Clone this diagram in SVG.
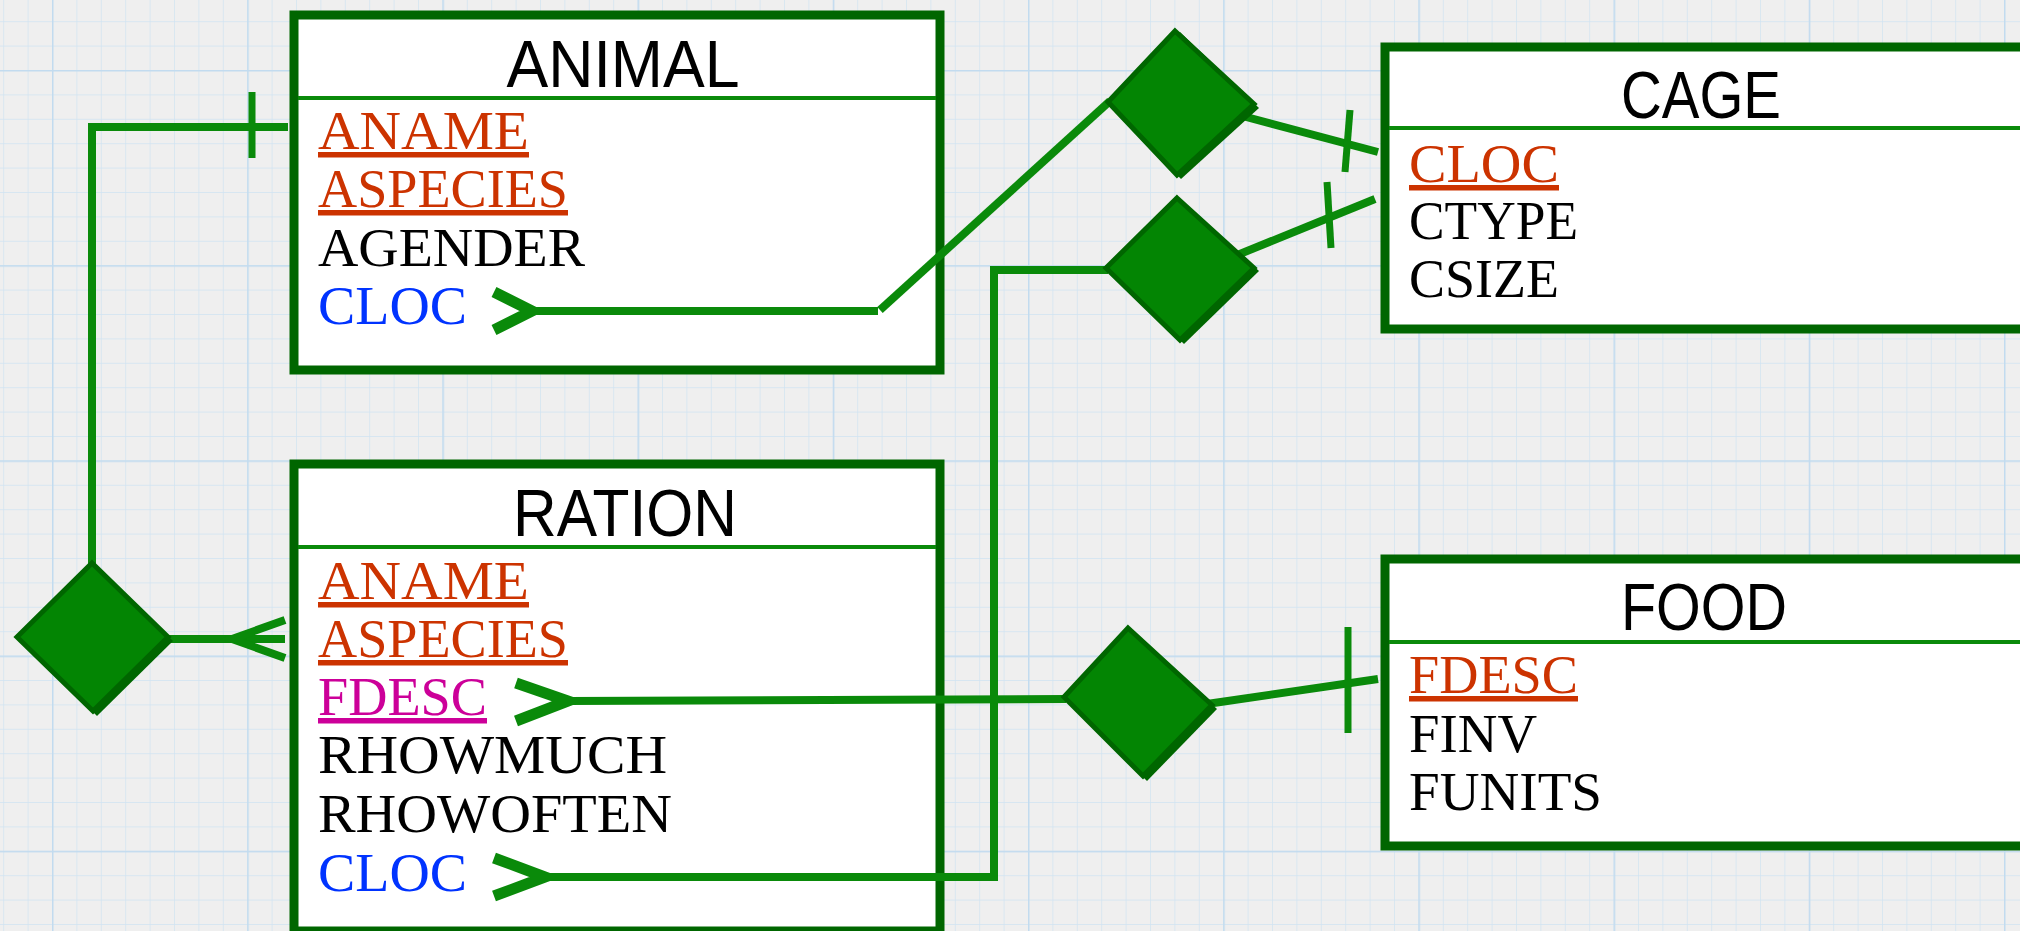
<svg xmlns="http://www.w3.org/2000/svg" width="2020" height="931" viewBox="0 0 2020 931">
  <defs>
    <pattern id="minor" patternUnits="userSpaceOnUse" x="3.2" y="21.2" width="24.4" height="24.4">
      <path d="M0 0 V24.4 M0 0 H24.4" fill="none" stroke="#d0e3f2" stroke-width="1.4"/>
    </pattern>
    <pattern id="major" patternUnits="userSpaceOnUse" x="52" y="70" width="195.2" height="195.2">
      <path d="M0 0 V195.2 M0 0 H195.2" fill="none" stroke="#c2dbef" stroke-width="3"/>
    </pattern>
    <style>
      .box{fill:#ffffff;stroke:#006600;stroke-width:9}
      .div{stroke:#0a8a0a;stroke-width:4}
      .title{font-family:"Liberation Sans",Arial,sans-serif;font-size:66px;fill:#000;text-anchor:middle}
      .attr{font-family:"Liberation Serif","Times New Roman",serif;font-size:55px}
      .pk{fill:#cc3300;text-decoration:underline}
      .pkfk{fill:#cc0099;text-decoration:underline}
      .fk{fill:#0033ff}
      .plain{fill:#000000}
      .conn{fill:none;stroke:#0a8a0a;stroke-width:8}
      .tick{fill:none;stroke:#0a8a0a;stroke-width:7}
      .chev{fill:none;stroke:#0a8a0a;stroke-width:11;stroke-linejoin:miter;stroke-miterlimit:10}
      .shadow{fill:#006600}
      .dia{fill:#038503;stroke:#006600;stroke-width:5;stroke-linejoin:miter}
    </style>
  </defs>

  <rect x="0" y="0" width="2020" height="931" fill="#efefef"/>
  <rect x="0" y="0" width="2020" height="931" fill="url(#minor)"/>
  <rect x="0" y="0" width="2020" height="931" fill="url(#major)"/>

  <g id="animal">
    <rect class="box" x="294" y="15" width="646" height="355"/>
    <line class="div" x1="298" y1="98" x2="936" y2="98"/>
    <text class="title" x="623" y="87" textLength="233" lengthAdjust="spacingAndGlyphs">ANIMAL</text>
    <text class="attr pk" x="318" y="149" textLength="211" lengthAdjust="spacingAndGlyphs">ANAME</text>
    <text class="attr pk" x="318" y="207" textLength="250" lengthAdjust="spacingAndGlyphs">ASPECIES</text>
    <text class="attr plain" x="318" y="266" textLength="267" lengthAdjust="spacingAndGlyphs">AGENDER</text>
    <text class="attr fk" x="318" y="324" textLength="149" lengthAdjust="spacingAndGlyphs">CLOC</text>
  </g>

  <g id="ration">
    <rect class="box" x="294" y="464" width="646" height="467"/>
    <line class="div" x1="298" y1="547" x2="936" y2="547"/>
    <text class="title" x="625" y="536" textLength="224" lengthAdjust="spacingAndGlyphs">RATION</text>
    <text class="attr pk" x="318" y="599" textLength="211" lengthAdjust="spacingAndGlyphs">ANAME</text>
    <text class="attr pk" x="318" y="657" textLength="250" lengthAdjust="spacingAndGlyphs">ASPECIES</text>
    <text class="attr pkfk" x="318" y="715" textLength="169" lengthAdjust="spacingAndGlyphs">FDESC</text>
    <text class="attr plain" x="318" y="773" textLength="349" lengthAdjust="spacingAndGlyphs">RHOWMUCH</text>
    <text class="attr plain" x="318" y="832" textLength="354" lengthAdjust="spacingAndGlyphs">RHOWOFTEN</text>
    <text class="attr fk" x="318" y="891" textLength="149" lengthAdjust="spacingAndGlyphs">CLOC</text>
  </g>

  <g id="cage">
    <rect class="box" x="1385" y="47" width="650" height="282"/>
    <line class="div" x1="1389" y1="128" x2="2020" y2="128"/>
    <text class="title" x="1701" y="118" textLength="160" lengthAdjust="spacingAndGlyphs">CAGE</text>
    <text class="attr pk" x="1409" y="182" textLength="150" lengthAdjust="spacingAndGlyphs">CLOC</text>
    <text class="attr plain" x="1409" y="239" textLength="169" lengthAdjust="spacingAndGlyphs">CTYPE</text>
    <text class="attr plain" x="1409" y="297" textLength="150" lengthAdjust="spacingAndGlyphs">CSIZE</text>
  </g>

  <g id="food">
    <rect class="box" x="1385" y="559" width="650" height="287"/>
    <line class="div" x1="1389" y1="642" x2="2020" y2="642"/>
    <text class="title" x="1704" y="630" textLength="166" lengthAdjust="spacingAndGlyphs">FOOD</text>
    <text class="attr pk" x="1409" y="693" textLength="169" lengthAdjust="spacingAndGlyphs">FDESC</text>
    <text class="attr plain" x="1409" y="752" textLength="128" lengthAdjust="spacingAndGlyphs">FINV</text>
    <text class="attr plain" x="1409" y="810" textLength="193" lengthAdjust="spacingAndGlyphs">FUNITS</text>
  </g>

  <g id="connectors">
    <!-- ANIMAL to left diamond -->
    <polyline class="conn" points="288,127 92,127 92,565"/>
    <line class="tick" x1="252" y1="92" x2="252" y2="158"/>
    <!-- left diamond to RATION (crow's foot) -->
    <line class="conn" x1="165" y1="639" x2="285" y2="639"/>
    <polyline class="conn" points="285,620 232,639 285,658"/>
    <!-- ANIMAL.CLOC to top diamond -->
    <polyline class="chev" points="494,292 532,311 494,330"/>
    <line class="conn" x1="532" y1="311" x2="878" y2="311"/>
    <line class="conn" x1="880" y1="310" x2="1110" y2="101" stroke-width="9"/>
    <!-- top diamond to CAGE -->
    <line class="conn" x1="1220" y1="110" x2="1378" y2="152"/>
    <line class="tick" x1="1350" y1="110" x2="1345" y2="172"/>
    <!-- RATION.CLOC to second diamond -->
    <polyline class="chev" points="494,858 545,877 494,896"/>
    <polyline class="conn" points="545,877 994,877 994,270 1108,270"/>
    <!-- second diamond to CAGE -->
    <line class="conn" x1="1225" y1="260" x2="1375" y2="199"/>
    <line class="tick" x1="1327" y1="182" x2="1331" y2="248"/>
    <!-- RATION.FDESC to FOOD diamond -->
    <polyline class="chev" points="516,683 568,701 516,721"/>
    <line class="conn" x1="568" y1="701" x2="1066" y2="699"/>
    <!-- FOOD diamond to FOOD -->
    <line class="conn" x1="1200" y1="705" x2="1378" y2="679"/>
    <line class="tick" x1="1348" y1="627" x2="1348" y2="733"/>
  </g>

  <g id="rel-animal-ration">
    <polygon class="shadow" points="96,566 173,641 97,716 20,640"/>
    <polygon class="dia" points="92,563 168,637 93,711 17,637"/>
  </g>
  <g id="rel-animal-cage">
    <polygon class="shadow" points="1180,32 1259,108 1181,179 1110,105"/>
    <polygon class="dia" points="1175,31 1254,104 1177,175 1108,102"/>
  </g>
  <g id="rel-ration-cage">
    <polygon class="shadow" points="1180,199 1259,271 1184,344 1108,270"/>
    <polygon class="dia" points="1177,198 1254,268 1180,340 1106,268"/>
  </g>
  <g id="rel-ration-food">
    <polygon class="shadow" points="1131,630 1217,709 1147,781 1066,700"/>
    <polygon class="dia" points="1128,628 1212,705 1143,776 1064,697"/>
  </g>
</svg>
